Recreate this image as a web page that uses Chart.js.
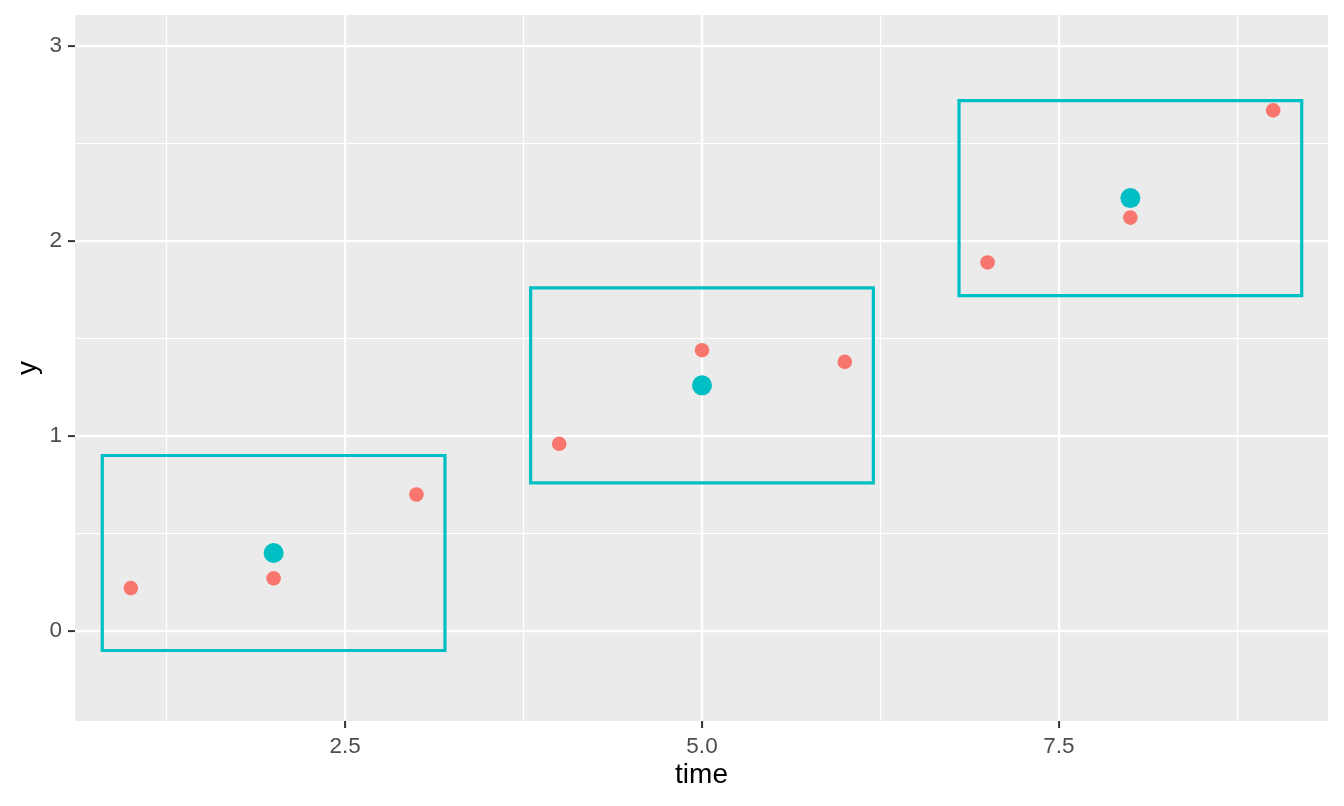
<!DOCTYPE html>
<html>
<head>
<meta charset="utf-8">
<script src="https://cdn.jsdelivr.net/npm/chart.js@4"></script>
<style>
html,body{margin:0;padding:0;background:#fff;}
#wrap{width:1344px;height:806px;}
</style>
</head>
<body>
<div id="wrap"><canvas id="c" width="1344" height="806"></canvas></div>
<script>
// Data
const timeVals = [1, 2, 3, 4, 5, 6, 7, 8, 9];
const yVals = [0.22, 0.27, 0.70, 0.96, 1.44, 1.38, 1.89, 2.12, 2.67];
const meanTime = [2, 5, 8];
const meanY = [0.40, 1.26, 2.22];
const boxXmin = [0.8, 3.8, 6.8];
const boxXmax = [3.2, 6.2, 9.2];
const boxYmin = [-0.10, 0.76, 1.72];
const boxYmax = [0.90, 1.76, 2.72];
const xMajorTicks = [2.5, 5.0, 7.5];
const xAllTicks = [1.25, 2.5, 3.75, 5.0, 6.25, 7.5, 8.75];
const yMajorTicks = [0, 1, 2, 3];
const yAllTicks = [0, 0.5, 1, 1.5, 2, 2.5, 3];

const RED = '#F8766D';
const TEAL = '#00BFC4';

const rectSets = boxXmin.map((x0, i) => ({
  type: 'scatter',
  data: [
    {x: x0, y: boxYmin[i]},
    {x: boxXmax[i], y: boxYmin[i]},
    {x: boxXmax[i], y: boxYmax[i]},
    {x: x0, y: boxYmax[i]},
    {x: x0, y: boxYmin[i]}
  ],
  showLine: true,
  borderColor: TEAL,
  borderWidth: 3.2,
  pointRadius: 0,
  fill: false,
  tension: 0,
  borderJoinStyle: 'miter',
  borderCapStyle: 'square'
}));

const isMajor = (arr, v) => arr.some(m => Math.abs(m - v) < 1e-9);

new Chart(document.getElementById('c'), {
  type: 'scatter',
  data: {
    datasets: [
      {
        data: meanTime.map((t, i) => ({x: t, y: meanY[i]})),
        backgroundColor: TEAL,
        borderWidth: 0,
        pointRadius: 10
      },
      {
        data: timeVals.map((t, i) => ({x: t, y: yVals[i]})),
        backgroundColor: RED,
        borderWidth: 0,
        pointRadius: 7.3
      },
      ...rectSets
    ]
  },
  options: {
    responsive: false,
    animation: false,
    devicePixelRatio: 1,
    layout: {padding: {left: 0, right: 16, top: 15, bottom: 0}},
    plugins: {legend: {display: false}, tooltip: {enabled: false}},
    scales: {
      x: {
        type: 'linear',
        min: 0.609,
        max: 9.384,
        afterBuildTicks: s => { s.ticks = xAllTicks.map(v => ({value: v})); },
        afterFit: s => { s.height = 85; s.paddingLeft = 0; s.paddingRight = 0; },
        grid: {
          color: '#FFFFFF',
          lineWidth: ctx => isMajor(xMajorTicks, ctx.tick.value) ? 2.2 : 1.1,
          tickColor: ctx => isMajor(xMajorTicks, ctx.tick.value) ? '#333333' : 'rgba(0,0,0,0)',
          tickWidth: 2,
          tickLength: 7,
          drawTicks: true
        },
        border: {display: false},
        ticks: {
          autoSkip: false,
          maxRotation: 0,
          padding: 5,
          color: '#4D4D4D',
          font: {family: 'Liberation Sans', size: 22.5},
          callback: v => isMajor(xMajorTicks, v) ? v.toFixed(1) : ''
        },
        title: {
          display: true,
          text: 'time',
          color: '#000000',
          font: {family: 'Liberation Sans', size: 28},
          padding: {top: 0, bottom: 14}
        }
      },
      y: {
        type: 'linear',
        min: -0.4615,
        max: 3.159,
        afterBuildTicks: s => { s.ticks = yAllTicks.map(v => ({value: v})); },
        afterFit: s => { s.width = 75; s.paddingTop = 0; s.paddingBottom = 0; },
        grid: {
          color: '#FFFFFF',
          lineWidth: ctx => isMajor(yMajorTicks, ctx.tick.value) ? 2.2 : 1.1,
          tickColor: ctx => isMajor(yMajorTicks, ctx.tick.value) ? '#333333' : 'rgba(0,0,0,0)',
          tickWidth: 2,
          tickLength: 7,
          drawTicks: true
        },
        border: {display: false},
        ticks: {
          autoSkip: false,
          padding: 6,
          color: '#4D4D4D',
          font: {family: 'Liberation Sans', size: 22.5},
          callback: v => isMajor(yMajorTicks, v) ? String(v) : ''
        },
        title: {
          display: true,
          text: 'y',
          color: '#000000',
          font: {family: 'Liberation Sans', size: 28},
          padding: {top: 11, bottom: 0}
        }
      }
    }
  },
  plugins: [{
    id: 'panelBg',
    beforeDraw(chart) {
      const {ctx, chartArea: a} = chart;
      ctx.save();
      ctx.fillStyle = '#EBEBEB';
      ctx.fillRect(a.left, a.top, a.right - a.left, a.bottom - a.top);
      ctx.restore();
    }
  }]
});
</script>
</body>
</html>
